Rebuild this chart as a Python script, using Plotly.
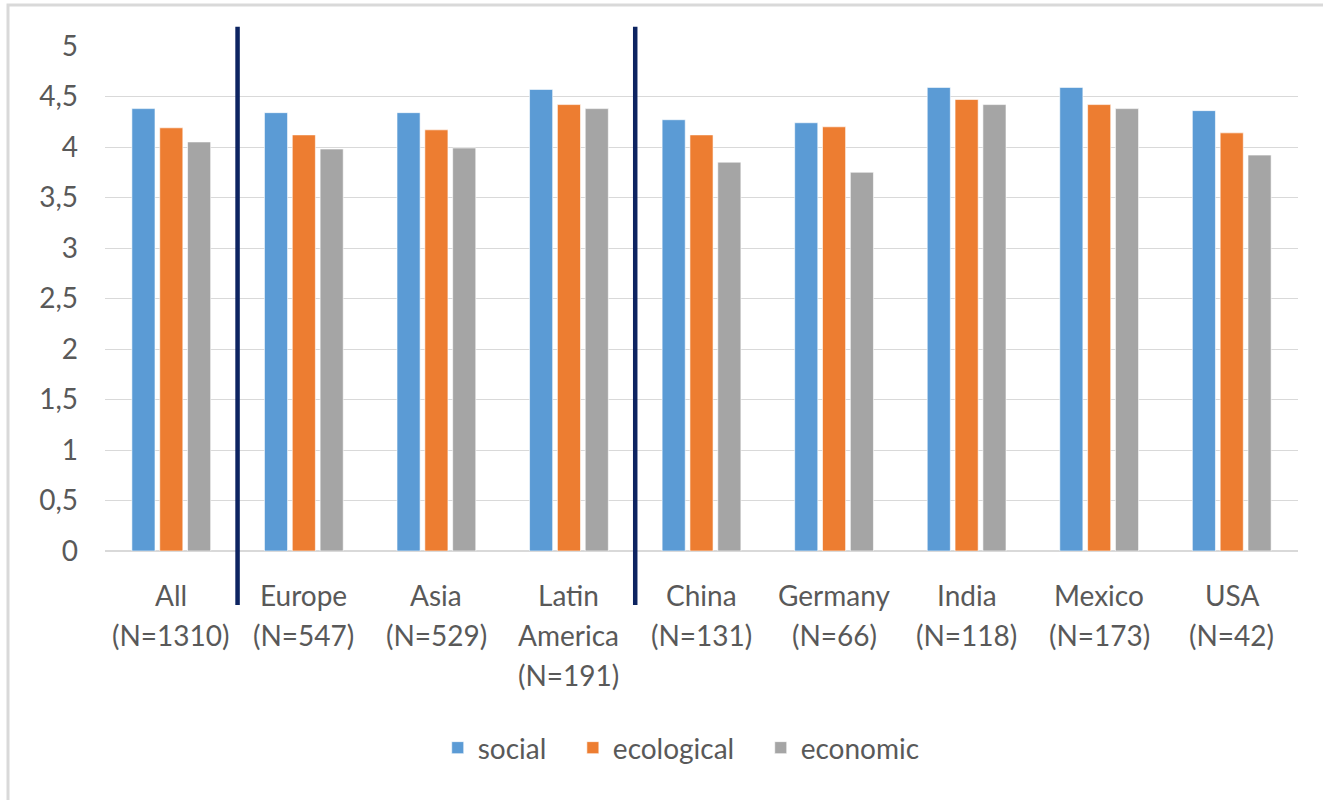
import plotly.graph_objects as go

# Mean importance ratings of the three sustainability dimensions
categories = ["All\n(N=1310)", "Europe\n(N=547)", "Asia\n(N=529)", "Latin\nAmerica\n(N=191)",
              "China\n(N=131)", "Germany\n(N=66)", "India\n(N=118)", "Mexico\n(N=173)", "USA\n(N=42)"]
social = [4.38, 4.34, 4.34, 4.57, 4.27, 4.24, 4.59, 4.59, 4.36]
ecological = [4.19, 4.12, 4.17, 4.42, 4.12, 4.20, 4.47, 4.42, 4.14]
economic = [4.05, 3.98, 3.99, 4.38, 3.85, 3.75, 4.42, 4.38, 3.92]
series_names = ["social", "ecological", "economic"]
series_colors = ["#5b9bd5", "#ed7d31", "#a5a5a5"]
y_ticks = [0, 0.5, 1, 1.5, 2, 2.5, 3, 3.5, 4, 4.5, 5]
# group boundaries: All | regions | countries
separators_after = [0, 3]

FONT = "Lato"
FSIZE = 28
TEXT = "#595959"
GRID = "#d9d9d9"
PAD = "\u00a0" * 3  # extra room between legend entries

x_idx = list(range(len(categories)))

fig = go.Figure()
for k, (name, vals, col) in enumerate(zip(series_names, [social, ecological, economic], series_colors)):
    label = name + (PAD if k < len(series_names) - 1 else "")
    fig.add_trace(go.Bar(
        x=x_idx, y=vals, name=label,
        marker=dict(color=col, line=dict(color="rgba(255,255,255,0.6)", width=1)),
    ))

# multi-line category labels under each group
annotations = []
for i, cat in enumerate(categories):
    for j, line in enumerate(cat.split("\n")):
        annotations.append(dict(
            x=i, xref="x", y=0, yref="paper", yanchor="middle", xanchor="center",
            yshift=-(44 + 40 * j), text=line, showarrow=False,
            font=dict(family=FONT, size=FSIZE, color=TEXT),
        ))

shapes = []
# outer chart frame
shapes.append(dict(type="rect", xref="paper", yref="paper",
                   x0=-0.0813, x1=1.06, y0=-0.56, y1=1.081,
                   line=dict(color=GRID, width=3), fillcolor="rgba(0,0,0,0)", layer="below"))
# vertical group dividers
for s in separators_after:
    shapes.append(dict(type="line", xref="x", yref="paper",
                       x0=s + 0.5, x1=s + 0.5, y0=-0.107, y1=1.038,
                       line=dict(color="#0d2461", width=4.5), layer="above"))

fig.update_layout(
    width=1323, height=800,
    margin=dict(l=105, r=25, t=46, b=249),
    paper_bgcolor="white", plot_bgcolor="white",
    separators=",.",
    barmode="group", bargap=0.37, bargroupgap=0.17,
    font=dict(family=FONT, size=FSIZE, color=TEXT),
    showlegend=True,
    legend=dict(orientation="h", x=0.483, xanchor="center", y=-0.39, yanchor="middle",
                font=dict(family=FONT, size=FSIZE, color=TEXT), itemwidth=30,
                traceorder="normal"),
    annotations=annotations,
    shapes=shapes,
)
fig.update_xaxes(range=[-0.5, len(categories) - 0.5], showticklabels=False, showgrid=False,
                 zeroline=False, showline=False, ticks="")
fig.update_yaxes(range=[0, 5], tickvals=y_ticks, showgrid=True, gridcolor=GRID, gridwidth=1.3,
                 zeroline=True, zerolinecolor=GRID, zerolinewidth=1.5, showline=False,
                 tickfont=dict(family=FONT, size=FSIZE, color=TEXT), ticklabelstandoff=26)

fig.write_html("out.html")
